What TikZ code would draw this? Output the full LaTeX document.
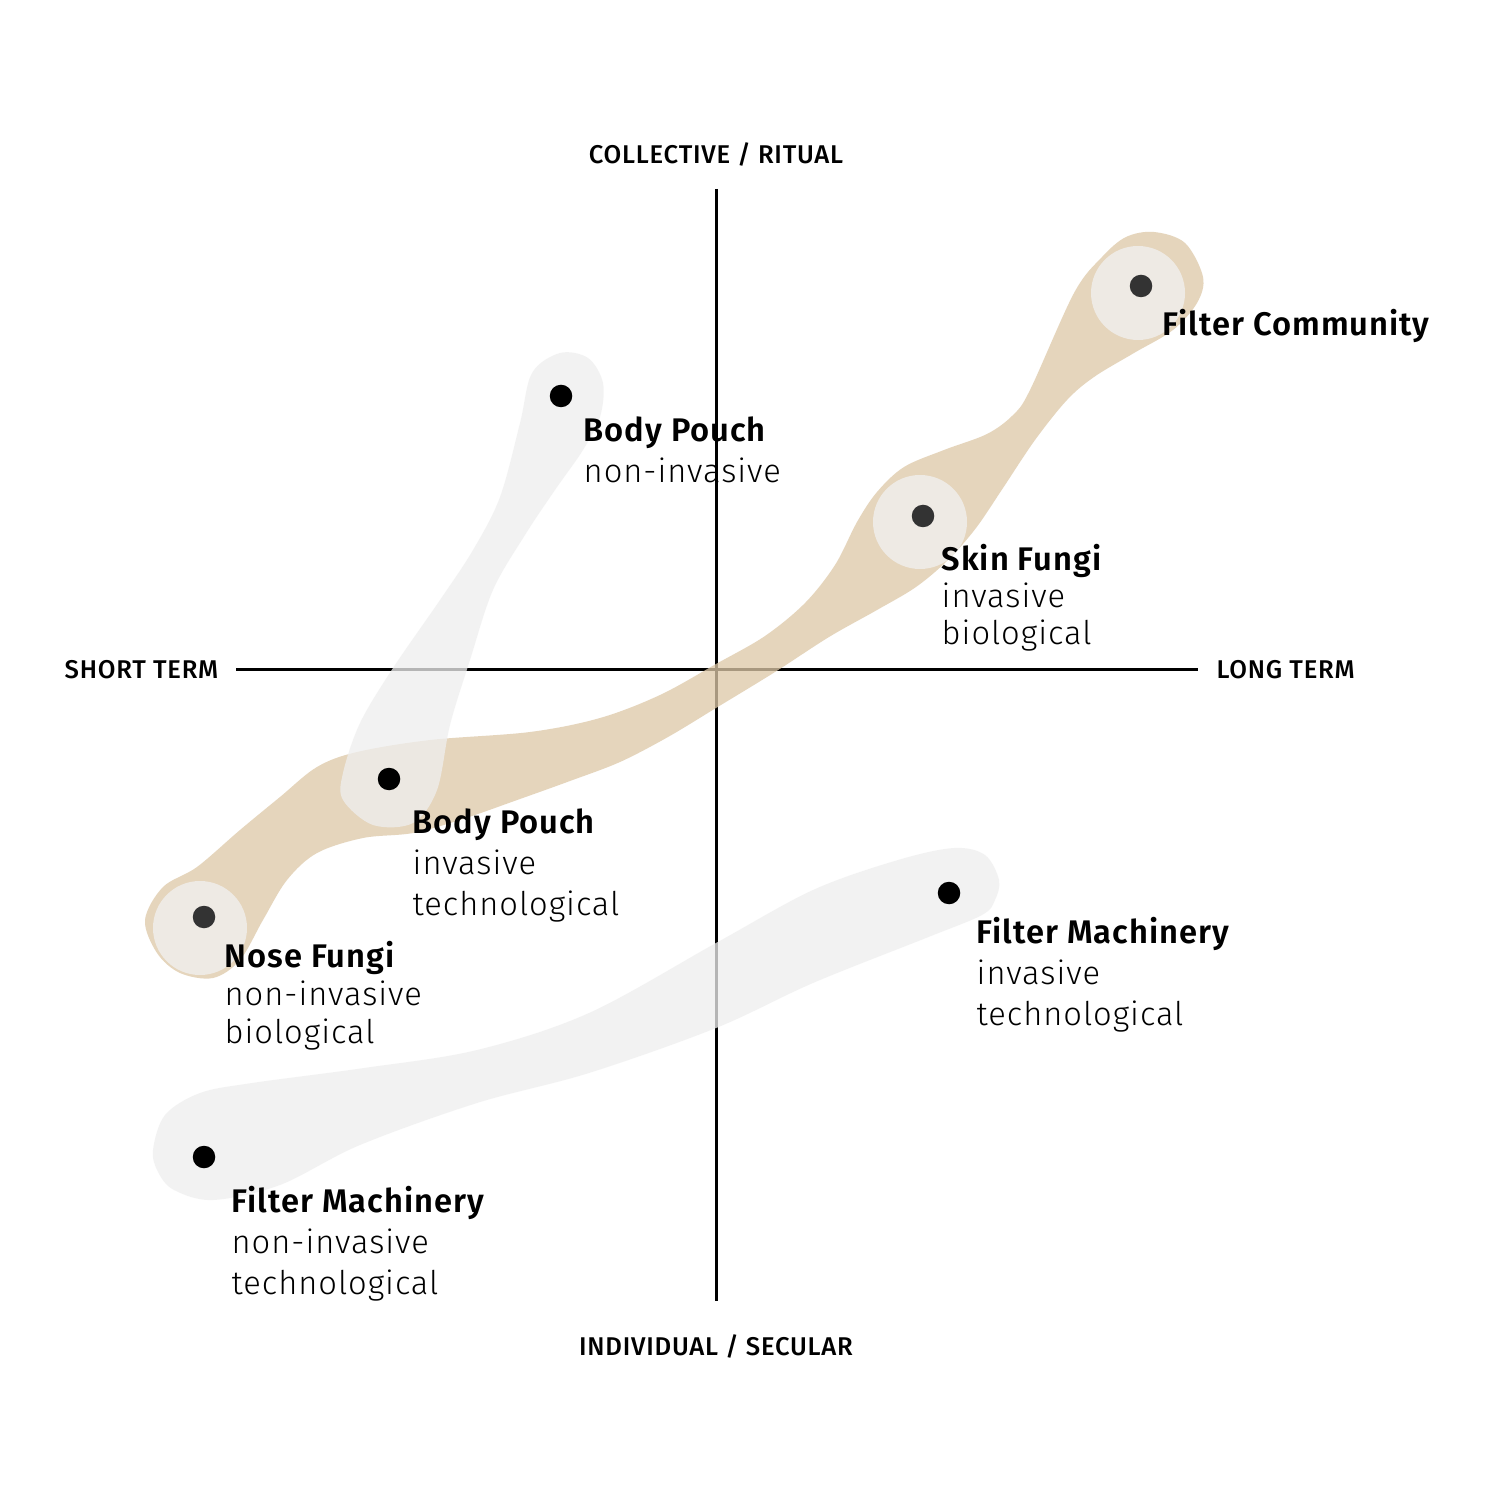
\documentclass[tikz,border=0pt]{standalone}
\usepackage{fontspec}
\setmainfont{Fira Sans Light}[LetterSpace=3]
\newfontfamily\namefont{Fira Sans SemiBold}[LetterSpace=3]
\newfontfamily\axisfont{Fira Sans Medium}[LetterSpace=3]
\definecolor{tanc}{HTML}{DDC8A8}
\definecolor{greyc}{HTML}{EFEFEF}
\definecolor{ringc}{HTML}{EEEAE4}
\definecolor{dotc}{HTML}{333333}
\tikzset{
  blobtan/.style={fill=tanc, fill opacity=0.76},
  blobgrey/.style={fill=greyc, fill opacity=0.76},
  ringnode/.style={circle, fill=ringc, minimum size=9.4mm, inner sep=0pt},
  dotnode/.style={circle, fill=black, minimum size=2.25mm, inner sep=0pt},
  dotdark/.style={dotnode, fill=dotc},
  namelbl/.style={anchor=base west, inner sep=0pt, font=\namefont\fontsize{9.3}{10}\selectfont},
  sublbl/.style={anchor=base west, inner sep=0pt, font=\fontsize{9.3}{10}\selectfont},
  axislbl/.style={inner sep=0pt, font=\axisfont\fontsize{7.3}{8}\selectfont},
  axisline/.style={line width=0.3mm, draw=black}
}
\begin{document}
\begin{tikzpicture}[x=0.1mm, y=-0.1mm]
\useasboundingbox (0,0) rectangle (1500,1501);
\fill[white] (0,0) rectangle (1500,1501);

% axes
\coordinate (axT) at (716,189);
\coordinate (axB) at (716,1301);
\coordinate (axL) at (236,670);
\coordinate (axR) at (1198,670);
\draw[axisline] (axT) -- (axB);
\draw[axisline] (axL) -- (axR);

% axis labels
\node[axislbl, anchor=base] (lblTop) at (716,164) {COLLECTIVE / RITUAL};
\node[axislbl, anchor=base] (lblBot) at (716,1355) {INDIVIDUAL / SECULAR};
\node[axislbl, anchor=base east] (lblLeft) at (219,678) {SHORT TERM};
\node[axislbl, anchor=base west] (lblRight) at (1216,678) {LONG TERM};

% tan blob (biological / collective path)
\fill[blobtan] plot[smooth cycle, tension=0.55] coordinates {
 (145,920) (163,887) (197,867) (240,830) (280,797) (317,767) (357,752)
 (430,740) (530,732) (600,718) (660,695) (716,664) (765,636) (805,603)
 (835,565) (857,522)
 (877,492) (904,467) (944,450) (987,434) (1013,415) (1030,390)
 (1074,293) (1102,257) (1126,237) (1154,232) (1185,243) (1203,277)
 (1197,303) (1173,330) (1134,353) (1094,377) (1067,400) (1035,440)
 (1003,488) (976,528) (948,560) (916,587) (877,610) (829,637)
 (775,672) (716,708) (668,737) (620,762) (570,781) (520,799) (463,819)
 (413,833) (363,838) (317,853)
 (287,880) (263,920) (240,960) (213,978) (180,973) (157,953)};

% grey blob: body pouch
\fill[blobgrey] plot[smooth cycle, tension=0.55] coordinates {
 (560,353) (588,358) (603,383) (600,417) (583,450) (555,490) (525,535)
 (493,590) (470,660) (450,725) (437,790) (413,823) (373,825) (343,800)
 (343,773) (360,723) (393,668) (440,600) (473,550) (500,497) (520,423)
 (532,373)};

% grey blob: filter machinery
\fill[blobgrey] plot[smooth cycle, tension=0.55] coordinates {
 (153,1150) (165,1115) (200,1093) (252,1083) (364,1068) (477,1050)
 (589,1013) (716,943) (813,890) (898,860) (954,848) (985,855) (999,880)
 (995,900) (982,915) (926,938) (813,983) (716,1028) (589,1073)
 (477,1103) (360,1145) (280,1185) (213,1200) (174,1190) (158,1172)};

% rings
\node[ringnode] (ringFC) at (1138,293) {};
\node[ringnode] (ringSF) at (920,522) {};
\node[ringnode] (ringNF) at (200,928) {};

% dots
\node[dotdark] (dFC) at (1141,286) {};
\node[dotdark] (dSF) at (923,516) {};
\node[dotdark] (dNF) at (204,917) {};
\node[dotnode] (dBPn) at (561,396) {};
\node[dotnode] (dBPi) at (389,779) {};
\node[dotnode] (dFMi) at (949,893) {};
\node[dotnode] (dFMn) at (204,1157) {};

% labels
\node[namelbl] (tFC) at (1162,336) {Filter Community};

\node[namelbl] (tBPn) at (583,442) {Body Pouch};
\node[sublbl] (tBPn2) at (583,483) {non-invasive};

\node[namelbl] (tSF) at (941,571) {Skin Fungi};
\node[sublbl] (tSF2) at (941,608) {invasive};
\node[sublbl] (tSF3) at (941,645) {biological};

\node[namelbl] (tBPi) at (412,833) {Body Pouch};
\node[sublbl] (tBPi2) at (412,874) {invasive};
\node[sublbl] (tBPi3) at (412,915) {technological};

\node[namelbl] (tNF) at (224,967) {Nose Fungi};
\node[sublbl] (tNF2) at (224,1005) {non-invasive};
\node[sublbl] (tNF3) at (224,1043) {biological};

\node[namelbl] (tFMi) at (976,943) {Filter Machinery};
\node[sublbl] (tFMi2) at (976,984) {invasive};
\node[sublbl] (tFMi3) at (976,1025) {technological};

\node[namelbl] (tFMn) at (231,1212) {Filter Machinery};
\node[sublbl] (tFMn2) at (231,1253) {non-invasive};
\node[sublbl] (tFMn3) at (231,1294) {technological};
\end{tikzpicture}
\end{document}
